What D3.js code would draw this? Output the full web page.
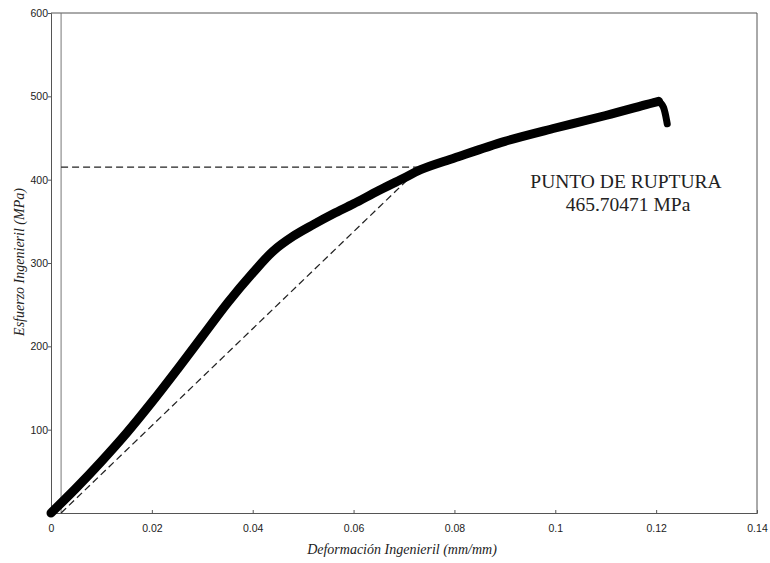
<!DOCTYPE html>
<html><head><meta charset="utf-8">
<script src="https://cdn.jsdelivr.net/npm/d3@7"></script>
<style>body{margin:0;background:#fff}svg{display:block}</style>
</head><body>
<svg id="c" width="770" height="563"></svg>
<script>
// Data
const strain = [0, 0.005, 0.010, 0.015, 0.020, 0.025, 0.030, 0.035, 0.040, 0.044, 0.048, 0.052, 0.056, 0.060, 0.065, 0.070, 0.0733, 0.080, 0.090, 0.100, 0.110, 0.118, 0.1205];
const stress = [0, 30, 62, 96, 133, 172, 212, 252, 288, 314, 332, 346, 359, 371, 387, 402, 412, 426, 446, 462, 477, 490, 494];
const dropStrain = [0.1195, 0.1205, 0.1215, 0.1222];
const dropStress = [493, 494, 490, 467];
const xTicks = [0, 0.02, 0.04, 0.06, 0.08, 0.1, 0.12, 0.14];
const yTicks = [100, 200, 300, 400, 500, 600];
const yieldStrain = 0.0733, yieldStress = 415, offsetStrain = 0.002;
const annot = ["PUNTO DE RUPTURA", "465.70471 MPa"];

const svg = d3.select("#c");
const x = d3.scaleLinear().domain([0, 0.14]).range([51, 757]);
const y = d3.scaleLinear().domain([0, 600]).range([513, 13]);
const axCol = "#555";
const sans = "Liberation Sans, Arial, sans-serif";
const serif = "Liberation Serif, Times New Roman, serif";

// frame
svg.append("line").attr("x1", x(0)).attr("x2", x(0.14)).attr("y1", y(600)).attr("y2", y(600)).attr("stroke", axCol).attr("stroke-width", 1);
svg.append("line").attr("x1", x(0.14)).attr("x2", x(0.14)).attr("y1", y(600)).attr("y2", y(0)).attr("stroke", axCol).attr("stroke-width", 1);
svg.append("line").attr("x1", x(offsetStrain)).attr("x2", x(offsetStrain)).attr("y1", y(600)).attr("y2", y(0)).attr("stroke", "#777").attr("stroke-width", 1);

const xAxis = d3.axisBottom(x).tickValues(xTicks).tickSize(-3).tickPadding(12).tickFormat(d => d === 0 ? "0" : String(+d.toFixed(2)));
const gx = svg.append("g").attr("transform", `translate(0,${y(0)})`).call(xAxis);
gx.select(".domain").attr("stroke", axCol);
gx.selectAll(".tick line").attr("stroke", axCol);
gx.selectAll("text").attr("font-family", sans).attr("font-size", 10.5).attr("fill", "#222");

const yAxis = d3.axisLeft(y).tickValues(yTicks).tickSize(3).tickPadding(0);
const gy = svg.append("g").attr("transform", `translate(${x(0)},0)`).call(yAxis);
gy.select(".domain").attr("stroke", axCol);
gy.selectAll(".tick line").attr("stroke", axCol);
gy.selectAll("text").attr("font-family", sans).attr("font-size", 10.5).attr("fill", "#222");

// dashed lines
svg.append("line").attr("x1", x(offsetStrain)).attr("y1", y(yieldStress)).attr("x2", x(yieldStrain)).attr("y2", y(yieldStress))
  .attr("stroke", "#222").attr("stroke-width", 1.3).attr("stroke-dasharray", "7,4");
svg.append("line").attr("x1", x(offsetStrain)).attr("y1", y(0)).attr("x2", x(yieldStrain)).attr("y2", y(yieldStress))
  .attr("stroke", "#222").attr("stroke-width", 1.3).attr("stroke-dasharray", "7,4");

// curve
const pts = strain.map((s, i) => [s, stress[i]]);
const line = d3.line().x(d => x(d[0])).y(d => y(d[1])).curve(d3.curveCatmullRom.alpha(0.5));
svg.append("path").datum(pts).attr("d", line).attr("fill", "none").attr("stroke", "#000").attr("stroke-width", 9).attr("stroke-linecap", "round").attr("stroke-linejoin", "round");
const dpts = dropStrain.map((s, i) => [s, dropStress[i]]);
svg.append("path").datum(dpts).attr("d", d3.line().x(d => x(d[0])).y(d => y(d[1])).curve(d3.curveBasis)).attr("fill", "none").attr("stroke", "#000").attr("stroke-width", 7).attr("stroke-linecap", "round").attr("stroke-linejoin", "round");

// annotation
svg.append("text").attr("x", 626).attr("y", 188).attr("text-anchor", "middle").attr("font-family", serif).attr("font-size", 19.5).attr("fill", "#222").text(annot[0]);
svg.append("text").attr("x", 628).attr("y", 211).attr("text-anchor", "middle").attr("font-family", serif).attr("font-size", 19.5).attr("fill", "#222").text(annot[1]);

// axis titles
svg.append("text").attr("x", 402).attr("y", 554).attr("text-anchor", "middle").attr("font-family", serif).attr("font-style", "italic").attr("font-size", 14).attr("fill", "#222").text("Deformación Ingenieril (mm/mm)");
svg.append("text").attr("transform", "translate(24,262) rotate(-90)").attr("text-anchor", "middle").attr("font-family", serif).attr("font-style", "italic").attr("font-size", 14).attr("fill", "#222").text("Esfuerzo Ingenieril (MPa)");
</script>
</body></html>
